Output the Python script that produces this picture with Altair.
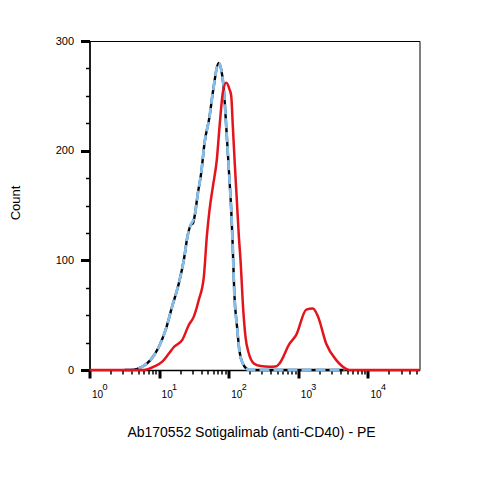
import altair as alt
import pandas as pd

# ---- data (fluorescence value, count) ----
black_x = [3.2, 3.9, 5.7, 7.5, 9.9, 12.4, 15.4, 19.2, 22.6, 25.8,
           28.3, 30.7, 32.3, 36.0, 40.3, 44.9, 53.0, 59.1, 72.1, 78.0,
           84.2, 92.1, 100.3, 108.6, 113.4, 120.3, 131.6, 142, 158.9, 187.5,
           200, 4600]
black_y = [0, 0, 3, 9, 21, 36.5, 58, 79, 100, 123,
           132, 134, 140, 161, 180, 207, 231, 253, 280, 274,
           259, 222, 183, 146, 118, 70, 39.5, 18, 6, 0.5,
           0, 0]

blue_x = [3.2, 3.9, 5.7, 7.5, 9.9, 12.4, 15.4, 19.2, 22.6, 25.8,
          28.3, 32.3, 36.0, 40.3, 44.9, 53.0, 59.1, 72.1, 78.0,
          84.2, 92.1, 100.3, 108.6, 113.4, 120.3, 131.6, 142, 158.9, 187.5,
          200, 4600]
blue_y = [0, 0, 3, 9, 21, 36.5, 58, 79, 100, 123,
          132, 140, 161, 180, 207, 231, 253, 280, 274,
          259, 222, 183, 146, 118, 70, 39.5, 18, 6, 0.5,
          0, 0]

red_x = [1, 6.0, 8.4, 11.1, 13.8, 16.3, 21.5, 26.7, 31.5, 37.2,
         43.9, 48.5, 53.0, 59.1, 67.5, 73.8, 82.3, 92.1, 102.6, 108.6,
         114.6, 121.2, 130.7, 139.7, 147.8, 161.5, 174.3, 194.4, 229.4, 286,
         385, 486, 537, 748, 933, 1300, 1616, 1907, 2516, 3506,
         4357, 5445, 55000]
red_y = [0, 0, 3, 7.6, 15, 21, 27.4, 41, 48.7, 64,
         85, 122, 146, 167, 192, 222, 253, 262, 256, 250,
         222, 192, 155, 122, 100, 55, 30, 15, 6, 3.6,
         3, 3.5, 6, 24, 32, 55, 56, 49, 24, 9,
         3, 0, 0]

# tick values and labels
x_ticks = [m * 10 ** k for k in range(0, 5) for m in range(1, 10) if m * 10 ** k <= 50000]
decades = [1, 10, 100, 1000, 10000]
exponents = ["0", "1", "2", "3", "4"]
y_ticks = list(range(0, 301, 25))

x_title = "Ab170552 Sotigalimab (anti-CD40) - PE"
y_title = "Count"

FONT = "Liberation Sans"
W, H = 330, 329

black_df = pd.DataFrame({"x": black_x, "y": black_y})
blue_df = pd.DataFrame({"x": blue_x, "y": blue_y})
red_df = pd.DataFrame({"x": red_x, "y": red_y})
exp_df = pd.DataFrame({"x": decades, "e": exponents})

x_major = "indexof([1, 10, 100, 1000, 10000], datum.value) >= 0"
y_major = "datum.value % 100 == 0"

x_scale = alt.Scale(type="log", domain=[1, 55000], nice=False)

x_enc = alt.X(
    "x:Q",
    scale=x_scale,
    axis=alt.Axis(
        values=x_ticks,
        labelExpr="indexof([1, 10, 100, 1000, 10000], datum.value) >= 0 ? '10' : ''",
        tickSize={"condition": {"test": x_major, "value": 8}, "value": 4},
        tickWidth={"condition": {"test": x_major, "value": 3}, "value": 1.5},
        tickColor="black",
        domainColor="black",
        domainWidth=1.5,
        labelFont=FONT,
        labelFontSize=10,
        labelColor="black",
        labelAlign="left",
        labelOffset=2,
        labelPadding=11,
        labelFlush=False,
        labelOverlap=False,
        labelBound=False,
        grid=False,
        title=x_title,
        titleFont=FONT,
        titleFontSize=14,
        titleFontWeight="normal",
        titleColor="black",
        titleX=161.5,
        titleY=62,
        titleAlign="center",
        titleBaseline="middle",
    ),
)

y_enc = alt.Y(
    "y:Q",
    scale=alt.Scale(domain=[0, 300], nice=False),
    axis=alt.Axis(
        values=y_ticks,
        labelExpr="datum.value % 100 == 0 ? datum.label : ''",
        tickSize={"condition": {"test": y_major, "value": 9}, "value": 4},
        tickWidth={"condition": {"test": y_major, "value": 3}, "value": 1.5},
        tickColor="black",
        domainColor="black",
        domainWidth=1.5,
        labelFont=FONT,
        labelFontSize=11,
        labelColor="black",
        labelPadding=7,
        labelFlush=False,
        labelOverlap=False,
        labelBound=False,
        grid=False,
        title=y_title,
        titleFont=FONT,
        titleFontSize=13,
        titleFontWeight="normal",
        titleColor="black",
        titleX=-74,
        titleY=161.5,
        titleAngle=-90,
        titleAlign="center",
        titleBaseline="middle",
    ),
)

black = alt.Chart(black_df).mark_line(color="#000000", strokeWidth=2.4, interpolate="monotone").encode(x=x_enc, y=y_enc)
blue = alt.Chart(blue_df).mark_line(color="#84BDEA", strokeWidth=2.8, strokeDash=[10, 4], interpolate="monotone").encode(x=x_enc, y=y_enc)
red = alt.Chart(red_df).mark_line(color="#E3141C", strokeWidth=2.5, interpolate="monotone").encode(x=x_enc, y=y_enc)

# superscript exponents of the decade labels
sup = alt.Chart(exp_df).mark_text(
    font=FONT, fontSize=9, color="black", align="left", baseline="top", dx=13
).encode(
    x=alt.X("x:Q", scale=x_scale),
    y=alt.value(H + 13),
    text="e:N",
)

chart = (
    alt.layer(black, blue, red, sup)
    .properties(
        width=W,
        height=H,
        autosize=alt.AutoSizeParams(type="none"),
        padding={"left": 81.5, "top": 33, "right": 50, "bottom": 100},
        background="white",
    )
    .configure_view(stroke="black", strokeWidth=1)
)

chart.save("out.html", embed_options={"renderer": "svg", "actions": False})
